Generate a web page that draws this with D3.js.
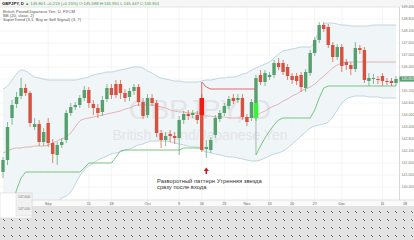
<!DOCTYPE html>
<html><head><meta charset="utf-8">
<script src="https://cdn.jsdelivr.net/npm/d3@7"></script>
<style>html,body{margin:0;padding:0;background:#fff;}svg{display:block;font-family:"Liberation Sans",Arial,sans-serif;}</style>
</head><body><svg id="c" width="414" height="240"></svg>
<script>
// ---- data (GBPJPY daily) ----
const open=[141.15,141.75,143.85,144.55,144.95,145.35,145.10,143.40,143.55,142.65,143.60,142.60,142.00,142.50,142.75,144.10,144.40,144.50,144.85,145.25,144.55,144.35,144.15,144.80,145.35,145.55,145.55,145.10,144.90,145.20,145.40,144.65,144.00,144.85,144.60,143.10,142.75,143.05,142.95,142.85,143.75,144.05,144.00,144.00,144.85,142.30,142.25,143.00,143.80,144.10,144.45,144.85,144.75,144.85,143.90,143.85,143.85,146.00,145.65,145.90,146.00,146.60,146.60,146.40,145.95,145.95,146.00,145.35,146.10,147.10,147.75,148.50,148.40,147.50,146.90,147.40,146.65,146.50,146.30,147.35,147.25,145.70,145.80,145.80,145.95,145.70,145.70,145.60];
const high=[141.90,143.65,144.75,145.15,145.85,145.55,145.20,143.85,143.75,143.35,143.85,142.80,142.65,142.85,144.25,144.60,144.65,145.00,145.45,145.40,144.75,144.55,144.95,145.55,145.55,145.75,145.75,145.30,145.35,145.55,145.55,144.85,145.05,145.05,144.75,143.25,143.15,143.25,143.15,143.95,144.20,144.25,144.25,144.20,145.05,142.75,142.90,144.00,144.25,144.60,144.95,145.05,145.05,145.05,144.05,144.80,146.00,146.25,146.25,146.15,146.75,146.85,146.75,146.55,146.10,146.10,146.15,146.30,147.25,147.90,148.65,148.65,148.55,147.65,147.55,147.55,146.80,146.65,147.65,147.50,147.40,146.10,146.05,145.95,146.10,145.85,145.85,145.95];
const low=[140.85,141.50,143.50,144.35,144.80,144.95,143.40,143.25,142.45,142.45,142.40,141.60,141.50,142.35,142.60,143.95,144.25,144.35,144.70,144.35,144.00,143.85,143.95,144.65,144.80,144.85,144.80,144.65,144.70,145.00,144.45,143.80,143.85,144.45,142.90,142.35,142.45,142.65,142.55,142.00,143.55,143.75,143.85,143.55,142.15,141.85,142.10,142.85,143.65,143.95,144.30,144.55,144.60,143.75,143.45,143.70,143.70,145.50,145.45,145.75,145.85,146.25,146.00,145.75,145.55,145.50,145.15,145.15,145.95,146.95,147.60,148.15,147.35,146.65,146.75,146.15,146.25,146.00,146.15,147.05,145.60,145.45,145.55,145.55,145.45,145.50,145.45,145.45];
const close=[141.75,143.40,144.50,144.90,145.35,145.10,143.60,143.55,142.65,143.15,142.60,142.05,142.50,142.65,144.10,144.40,144.50,144.85,145.25,144.60,144.35,144.10,144.75,145.35,145.00,145.00,145.10,144.85,145.20,145.40,144.65,143.95,144.85,144.60,143.10,142.75,142.95,142.95,142.85,143.75,144.05,143.95,144.10,143.75,142.25,142.40,142.75,143.85,144.10,144.45,144.80,144.70,144.85,143.90,143.65,144.65,145.85,145.65,146.10,146.00,146.60,146.40,146.15,145.95,145.75,145.70,145.40,146.15,147.10,147.75,148.50,148.30,147.50,146.90,147.40,146.45,146.50,146.30,147.35,147.25,145.75,145.85,145.85,145.75,145.70,145.65,145.60,145.80];
const bbUpper=[145.30,145.45,145.75,146.05,146.25,146.20,146.05,145.90,145.85,145.80,145.75,145.75,145.75,145.75,145.75,145.75,145.75,145.80,145.85,145.90,146.00,146.05,146.10,146.15,146.15,146.20,146.25,146.30,146.35,146.40,146.40,146.35,146.20,146.10,145.95,145.85,145.80,145.75,145.70,145.70,145.65,145.65,145.65,145.65,145.70,145.75,145.75,145.80,145.85,145.85,145.90,145.90,145.95,146.05,146.10,146.25,146.35,146.45,146.55,146.65,146.85,147.05,147.20,147.25,147.30,147.35,147.40,147.40,147.40,147.70,148.25,148.55,148.60,148.60,148.55,148.50,148.50,148.45,148.45,148.45,148.45,148.45,148.50,148.50,148.50,148.50,148.50,148.50];
const bbMiddle=[142.10,142.20,142.30,142.35,142.35,142.40,142.40,142.45,142.45,142.45,142.50,142.60,142.70,142.80,142.90,143.10,143.40,143.70,143.80,143.85,143.90,143.95,144.00,144.05,144.10,144.15,144.20,144.30,144.35,144.45,144.50,144.50,144.50,144.50,144.45,144.40,144.35,144.25,144.20,144.15,144.15,144.10,144.10,144.10,144.00,143.95,143.95,143.90,143.90,143.90,143.85,143.85,143.85,143.85,143.85,143.90,143.95,144.10,144.20,144.35,144.45,144.55,144.70,144.80,144.95,145.05,145.20,145.30,145.40,145.55,145.75,145.95,146.15,146.35,146.50,146.60,146.65,146.65,146.65,146.65,146.65,146.65,146.65,146.65,146.65,146.65,146.65,146.65];
const bbLower=[138.90,138.95,138.85,138.65,138.45,138.60,138.75,139.00,139.05,139.10,139.25,139.45,139.65,139.85,139.95,140.15,140.55,140.95,141.25,141.45,141.60,141.75,141.85,141.95,142.05,142.10,142.15,142.25,142.30,142.40,142.50,142.55,142.65,142.70,142.70,142.70,142.70,142.65,142.60,142.55,142.50,142.45,142.40,142.40,142.25,142.15,142.10,142.05,142.00,141.95,141.90,141.90,141.85,141.80,141.75,141.70,141.70,141.75,141.85,141.95,142.05,142.10,142.20,142.35,142.55,142.75,142.95,143.15,143.35,143.45,143.50,143.55,143.65,143.90,144.25,144.60,144.80,144.90,144.95,144.95,144.95,144.90,144.90,144.90,144.85,144.85,144.85,144.85];
const superTrend=[138.50,138.75,139.50,140.25,140.85,141.15,141.15,141.15,141.15,141.15,141.15,141.15,141.15,141.15,141.15,141.15,141.15,141.15,141.35,141.60,141.60,141.60,141.60,141.60,141.60,141.90,142.20,142.25,142.25,142.25,142.25,142.25,142.25,142.25,142.25,142.25,142.25,142.25,142.25,142.25,142.35,142.35,142.35,142.35,145.65,145.40,145.30,145.30,145.30,145.30,145.30,145.30,145.30,145.30,145.30,145.30,142.00,142.45,142.85,143.20,143.50,143.75,143.85,143.85,143.85,143.85,143.85,143.85,143.85,144.25,144.85,145.35,145.45,145.45,145.45,145.45,145.45,145.45,145.45,145.45,145.45,145.45,145.45,145.45,145.45,145.45,145.45,145.45];
const superTrendDir=[1,1,1,1,1,1,1,1,1,1,1,1,1,1,1,1,1,1,1,1,1,1,1,1,1,1,1,1,1,1,1,1,1,1,1,1,1,1,1,1,1,1,1,1,-1,-1,-1,-1,-1,-1,-1,-1,-1,-1,-1,-1,1,1,1,1,1,1,1,1,1,1,1,1,1,1,1,1,1,1,1,1,1,1,1,1,1,1,1,1,1,1,1,1];
const priceTicks=[149.4,148.8,148.2,147.6,147.0,146.4,145.8,145.2,144.6,144.0,143.4,142.8,142.2,141.6,141.0,140.4];
const timeLabels=["Sep","11","18","Oct","9","16","23","Nov","13","20","27","Dec","11","18"];
const timeIndex=[10,19,24,32,39,44,49,54,59,64,69,75,84,89];
const highlightIndex=[44,56];
const highlightTop=[144.85,144.60];
const highlightBottom=[144.00,143.85];
const highlightColor=["#ee1c12","#3cf03c"];
const lastPrice=145.801;

// ---- drawing ----
const svg=d3.select('#c');
const x=d3.scaleLinear().domain([0,87]).range([3,396]);
const y=d3.scaleLinear().domain([139.75,149.35]).range([200,8]);
const defs=svg.append('defs');
defs.append('clipPath').attr('id','clip').append('rect').attr('x',0).attr('y',7).attr('width',399).attr('height',193);
const pat=defs.append('pattern').attr('id','dots').attr('width',8).attr('height',8).attr('patternUnits','userSpaceOnUse');
pat.append('rect').attr('width',8).attr('height',8).attr('fill','#e3e3e3');
[[3,3,'#5a5a5a'],[4,4,'#5a5a5a'],[4,3,'#fbfbfb'],[3,4,'#fbfbfb']].forEach(d=>pat.append('rect').attr('x',d[0]).attr('y',d[1]).attr('width',1).attr('height',1).attr('fill',d[2]));

svg.append('rect').attr('width',414).attr('height',240).attr('fill','#fff');

const g=svg.append('g').attr('clip-path','url(#clip)');
g.selectAll('.hg').data(priceTicks).join('line').attr('x1',0).attr('x2',399).attr('y1',d=>y(d)).attr('y2',d=>y(d)).attr('stroke','#efefef').attr('stroke-width',0.6);
g.selectAll('.vg').data(timeIndex).join('line').attr('x1',d=>x(d)).attr('x2',d=>x(d)).attr('y1',7).attr('y2',200).attr('stroke','#efefef').attr('stroke-width',0.6);

const idx=d3.range(open.length);
g.append('path').datum(idx).attr('d',d3.area().x(i=>x(i)).y0(i=>y(bbLower[i])).y1(i=>y(bbUpper[i])).curve(d3.curveMonotoneX)).attr('fill','#edf3f6').attr('opacity',0.85);

g.append('text').attr('x',200).attr('y',119).attr('text-anchor','middle').attr('font-size',28).attr('fill','#e3e4e9').text('GBPJPY, D');
g.append('text').attr('x',200).attr('y',140).attr('text-anchor','middle').attr('font-size',14).attr('fill','#e3e4e9').text('British Pound/Japanese Yen');

const ln=arr=>d3.line().x(i=>x(i)).y(i=>y(arr[i])).curve(d3.curveMonotoneX);
g.append('path').datum(idx).attr('d',ln(bbUpper)).attr('fill','none').attr('stroke','#afcdd8').attr('stroke-width',0.8);
g.append('path').datum(idx).attr('d',ln(bbLower)).attr('fill','none').attr('stroke','#afcdd8').attr('stroke-width',0.8);
g.append('path').datum(idx).attr('d',ln(bbMiddle)).attr('fill','none').attr('stroke','#dca3a3').attr('stroke-width',0.8);

const stCol=d=>d>0?'#6cbf74':'#e2585a';
for(let i=1;i<superTrend.length;i++){
  if(superTrendDir[i]===superTrendDir[i-1]){
    g.append('line').attr('x1',x(i-1)).attr('y1',y(superTrend[i-1])).attr('x2',x(i)).attr('y2',y(superTrend[i])).attr('stroke',stCol(superTrendDir[i])).attr('stroke-width',0.9);
  } else {
    g.append('line').attr('x1',x(i-1)).attr('y1',y(superTrend[i-1])).attr('x2',x(i)).attr('y2',y(superTrend[i-1])).attr('stroke',stCol(superTrendDir[i-1])).attr('stroke-width',0.9);
    g.append('line').attr('x1',x(i)).attr('y1',y(superTrend[i-1])).attr('x2',x(i)).attr('y2',y(superTrend[i])).attr('stroke',superTrendDir[i]>0?'#9ab8a6':stCol(superTrendDir[i])).attr('stroke-width',0.9);
  }
}

const up='#56a06d', dn='#d6513e', bw=3.4;
const cg=g.append('g');
idx.forEach(i=>{
  const c=close[i]>=open[i]?up:dn;
  cg.append('line').attr('x1',x(i)).attr('x2',x(i)).attr('y1',y(high[i])).attr('y2',y(low[i])).attr('stroke',c).attr('stroke-width',0.7);
  const t=y(Math.max(open[i],close[i])), b=y(Math.min(open[i],close[i]));
  cg.append('rect').attr('x',x(i)-bw/2).attr('y',t).attr('width',bw).attr('height',Math.max(0.8,b-t)).attr('fill',c);
});
highlightIndex.forEach((i,k)=>{
  g.append('rect').attr('x',x(i)-2.3).attr('y',y(highlightTop[k])).attr('width',4.6).attr('height',y(highlightBottom[k])-y(highlightTop[k])).attr('fill',highlightColor[k]);
});

const lg=svg.append('g').attr('font-size',4.2).attr('fill','#555');
lg.append('text').attr('x',3).attr('y',12.5).text('British Pound/Japanese Yen, D, FXCM');
lg.append('text').attr('x',3).attr('y',16.5).text('BB (20, close, 2)');
lg.append('text').attr('x',3).attr('y',20.5).text('SuperTrend (3,1, Buy or Sell Signal) (3, 7)');

const ax=x(45), ay=y(low[45])+13;
svg.append('path').attr('d',`M${ax},${ay-3.5}L${ax-2.6},${ay}L${ax-0.8},${ay}L${ax-0.8},${ay+3}L${ax+0.8},${ay+3}L${ax+0.8},${ay}L${ax+2.6},${ay}Z`).attr('fill','#cc1a22');
const at=svg.append('g').attr('font-size',5.8).attr('fill','#333');
at.append('text').attr('x',157).attr('y',182.5).text('Разворотный паттерн Утренняя звезда');
at.append('text').attr('x',157).attr('y',188.5).text('сразу после входа');

svg.append('rect').attr('x',0).attr('y',0).attr('width',414).attr('height',7).attr('fill','#f6f6f6');
svg.append('line').attr('x1',0).attr('x2',414).attr('y1',7).attr('y2',7).attr('stroke','#dcdcdc').attr('stroke-width',0.6);
const tb=svg.append('text').attr('x',2).attr('y',5).attr('font-size',4.2);
tb.append('tspan').attr('font-weight','bold').attr('fill','#222').text('GBPJPY, D ');
tb.append('tspan').attr('fill','#3a9a4a').text(' ▲ 145.801  +0.213 (+0.15%)  O:145.588  H:145.951  L:145.447  C:145.801');

svg.append('rect').attr('x',399).attr('y',7).attr('width',15).attr('height',193).attr('fill','#fff');
svg.append('line').attr('x1',399.5).attr('x2',399.5).attr('y1',7).attr('y2',200).attr('stroke','#c8c8c8').attr('stroke-width',0.7);
svg.append('g').selectAll('text').data(priceTicks).join('text').attr('x',401.5).attr('y',d=>y(d)+1.3).attr('font-size',3.6).attr('fill','#777').text(d=>d.toFixed(3));
svg.append('rect').attr('x',399.5).attr('y',y(lastPrice)-2.6).attr('width',14.5).attr('height',5.2).attr('fill','#5b9e6f');
svg.append('text').attr('x',401.5).attr('y',y(lastPrice)+1.3).attr('font-size',3.6).attr('fill','#fff').text(lastPrice.toFixed(3));

svg.append('rect').attr('x',0).attr('y',200).attr('width',414).attr('height',6).attr('fill','#fafafa');
svg.append('line').attr('x1',0).attr('x2',414).attr('y1',200).attr('y2',200).attr('stroke','#cfcfcf').attr('stroke-width',0.6);
svg.append('g').selectAll('line').data(timeIndex).join('line').attr('x1',d=>x(d)).attr('x2',d=>x(d)).attr('y1',200).attr('y2',206).attr('stroke','#dedede').attr('stroke-width',0.5);
svg.append('g').selectAll('text').data(timeLabels).join('text').attr('x',(d,k)=>x(timeIndex[k])).attr('y',204.6).attr('text-anchor','middle').attr('font-size',3.8).attr('fill','#666').text(d=>d);

svg.append('rect').attr('x',0).attr('y',206).attr('width',414).attr('height',34).attr('fill','url(#dots)');
svg.append('rect').attr('x',0).attr('y',193).attr('width',32).attr('height',25).attr('fill','#fff').attr('stroke','#cfcfcf').attr('stroke-width',0.5);
svg.append('rect').attr('x',16).attr('y',193).attr('width',16).attr('height',23).attr('fill','#f1f1f1').attr('stroke','#d5d5d5').attr('stroke-width',0.5);
svg.append('text').attr('x',18).attr('y',197.5).attr('font-size',3.4).attr('fill','#777').text('147.600');
svg.append('text').attr('x',18).attr('y',209.5).attr('font-size',3.4).attr('fill','#777').text('147.000');
</script></body></html>
